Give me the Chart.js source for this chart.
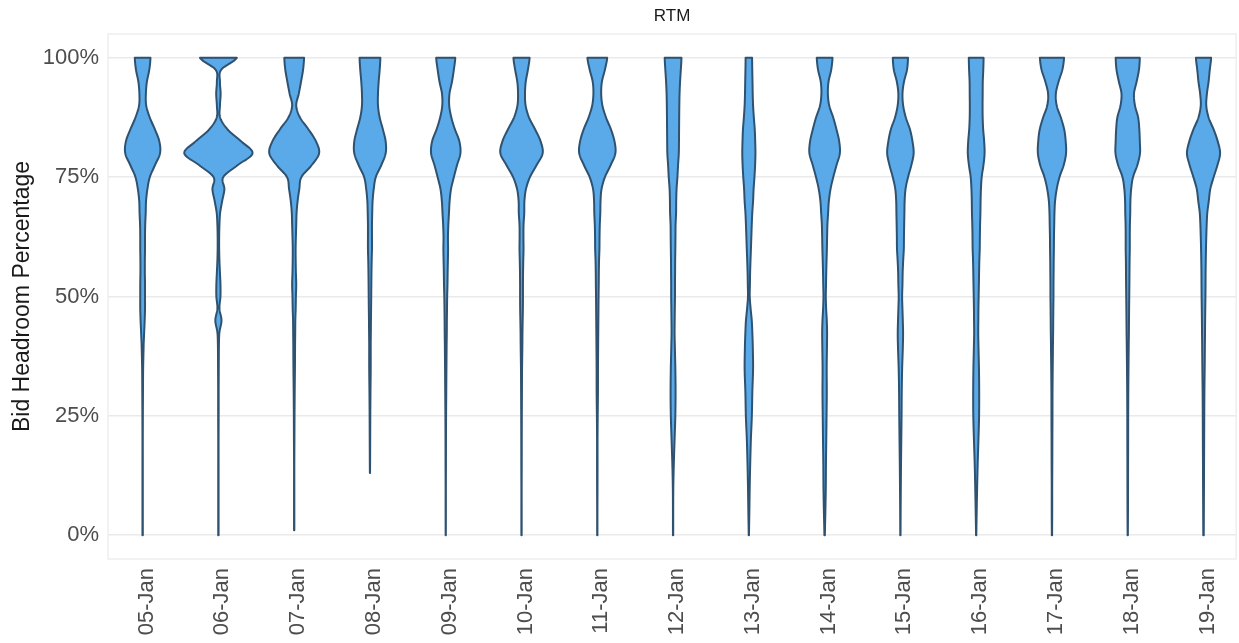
<!DOCTYPE html>
<html>
<head>
<meta charset="utf-8">
<title>RTM bid headroom</title>
<script src="https://cdn.jsdelivr.net/npm/chart.js@4.4.1/dist/chart.umd.min.js"></script>
<style>
  html, body { margin: 0; padding: 0; background: #ffffff; }
  #wrap { width: 1239px; height: 643px; }
</style>
</head>
<body>
<div id="wrap"><canvas id="chart" width="1239" height="643"></canvas></div>
<script>
// Trading days on the x axis
const dates = ['05-Jan', '06-Jan', '07-Jan', '08-Jan', '09-Jan', '10-Jan', '11-Jan', '12-Jan',
               '13-Jan', '14-Jan', '15-Jan', '16-Jan', '17-Jan', '18-Jan', '19-Jan'];

// Bid headroom levels (%) at which each day's density is given
const levels = [0, 5, 10, 15, 20, 25, 30, 35, 40, 42.5, 45, 47.5, 50, 52.5, 55, 57.5, 60, 62.5,
                65, 67.5, 70, 72.5, 75, 77.5, 80, 82.5, 85, 87.5, 90, 92.5, 95, 97.5, 100];

// y axis tick values (%)
const yTicks = [0, 25, 50, 75, 100];

// Lowest and highest observed headroom for each day (violins are trimmed to the data range)
const lowest  = [0, 0, 1, 13, 0, 0, 0, 0, 0, 0, 0, 0, 0, 0, 0];
const highest = [100, 100, 100, 100, 100, 100, 100, 100, 100, 100, 100, 100, 100, 100, 100];

// Relative density per day at each level (100 = widest violin)
const dens05 = [0.5,0.5,0.5,0.5,0.5,0.7,1,1.5,3,4.5,6,7,7,7,6.5,6.5,7,7,7.5,9,10,14,21,36,51,49,36,21,10.5,9.5,12.5,19.5,23];
const dens06 = [0.5,0.5,0.5,0.5,0.5,0.7,0.7,1,1.5,3,9,3,6,6,4.5,3,2.2,2.2,3,5,11,17.5,14,56,100,67,27,5,4.5,6.5,4.5,8,54];
const dens07 = [0.4,0.4,0.4,0.4,0.7,1,1.5,2.2,2.6,3,3.3,4.4,5,6,5,4.4,4.2,5,6,7,10,15,21,51,73,64,42,17,6,13.5,20,26,29];
const dens08 = [0,0,0,0.4,0.7,1,1.5,2.2,2.2,2.6,2.9,3.3,3.7,4,4.4,5,5.9,5.9,5.9,6.6,7.7,11,17,33,46,46,38,28.5,23.5,23.5,25.5,28.5,30.5];
const dens09 = [0.3,0.4,0.4,0.6,0.7,1,1.5,2,2.6,3.1,3.3,3.7,4.2,5.1,5.6,6.3,6.9,6.5,7.6,9.5,11.4,15.4,23.7,33,43,40,27,16.4,10.2,11,18.3,23.7,28];
const dens10 = [0.4,0.4,0.4,0.6,0.7,0.9,1.2,1.6,2.5,2.8,3.4,4,4.2,4.2,4.5,5.1,5.9,5.6,5.9,8,8.5,13,24.6,44,62,56,40,22,12,10.2,12.4,18.7,23.7];
const dens11 = [0.4,0.4,0.6,0.7,0.7,1.2,1.9,2,2.5,2.8,3.1,3.4,3.7,4.2,4.5,5.1,6.3,6.6,7.3,8.8,9.5,12.4,22.3,39,53,50.5,40,25.6,15,11.4,13.5,22.3,29];
const dens12 = [0.4,0.4,0.7,2.2,4.4,6.6,7.3,6.6,5.1,4.4,4.7,5.1,5.6,5.6,5.9,6.1,6.6,7,7.3,8.8,9.2,10.2,12.7,14.6,16.8,17.3,17.6,17.9,18.3,19,20.5,22.7,24.6];
const dens13 = [0.4,1.5,2.5,4,5.9,8.8,10.2,12.4,11.4,10.2,8.5,5.1,2.6,3.1,3.7,4.8,6.1,7.3,8.5,10,12.4,13.9,16.4,18.3,19.3,18.6,17.3,14.6,12.4,11.3,10.7,10,9.5];
const dens14 = [0.7,2.2,3.4,3.9,4.8,5.6,6.3,6,6.9,7.2,6.3,4.4,3.4,4.1,4.7,5.6,6.6,7.3,8.1,10.2,12.4,17.3,25.2,34.8,44.6,42.7,34.8,25.2,13.5,9.5,11.4,19.3,23.1];
const dens15 = [0.4,0.7,1.2,1.8,2.6,3.4,3.9,5.1,7.3,7.8,7,5.9,5,6,6.6,8.1,10,10.4,11,11.7,12.4,15,22.3,32,38.8,35.4,28.1,15.8,8.1,6.1,10.5,19.3,22.3];
const dens16 = [0.4,1.5,2.8,4.4,6.6,8.5,8.8,8.1,6.6,6,6.3,6.6,7.2,7.9,8.5,9.2,10.4,10.8,11.4,12.4,12.9,13.9,16.1,21.2,24.6,23.4,20.5,19,18.7,19,19.3,20.8,21.7];
const dens17 = [0.4,0.7,0.7,1,1.2,1.5,1.6,2.2,2.9,3.4,3.7,4,4.4,4.5,4.8,5.1,5.6,5.9,6.6,7.3,9.1,13.9,22,34.4,41.3,40.3,35.9,26,13.9,11.4,19.3,30.5,35.4];
const dens18 = [0.4,0.7,0.9,1,1.2,1.3,1.6,2.2,2.9,3.4,3.7,4,4.4,4.8,5.1,5.4,6,6,6.3,7.3,7.8,10,15.4,28.1,35.9,35.4,34,30.5,21.2,18.3,26,32.9,35.4];
const dens19 = [0.7,1,1.3,1.6,1.9,2.2,2.6,3.4,4,4.4,4.7,5.1,5.6,5.9,6.1,6.6,7.2,8.1,9.2,11,15.4,19.8,29.6,40.7,48.6,41.7,29.6,14.9,8.1,10,14.9,18.3,22.3];

const densities = [dens05, dens06, dens07, dens08, dens09, dens10, dens11, dens12,
                   dens13, dens14, dens15, dens16, dens17, dens18, dens19];

// Widest violin spans 0.9 of a category slot
const MAX_HALF_WIDTH = 0.45;

function catmullRom(p0, p1, p2, p3, t) {
  const t2 = t * t, t3 = t2 * t;
  return 0.5 * (2 * p1 + (-p0 + p2) * t + (2 * p0 - 5 * p1 + 4 * p2 - p3) * t2 +
                (-p0 + 3 * p1 - 3 * p2 + p3) * t3);
}

// Smooth outline of one violin: list of [headroom, density] from bottom to top
function outline(dens, low, high) {
  const pts = [];
  const n = levels.length;
  const steps = 12;
  for (let k = 0; k < n - 1; k++) {
    const y0 = levels[k], y1 = levels[k + 1];
    if (y1 < low || y0 > high) continue;
    const p0 = dens[Math.max(k - 1, 0)], p1 = dens[k], p2 = dens[k + 1], p3 = dens[Math.min(k + 2, n - 1)];
    for (let s = 0; s <= steps; s++) {
      if (s === steps && k < n - 2) continue;
      let t = s / steps;
      let y = y0 + (y1 - y0) * t;
      if (y < low) {
        const tn = (s + 1) / steps;
        if (y0 + (y1 - y0) * tn > low) { y = low; t = (low - y0) / (y1 - y0); } else continue;
      }
      if (y > high) continue;
      pts.push([y, Math.max(catmullRom(p0, p1, p2, p3, t), 0.2)]);
    }
  }
  return pts;
}

const violinPlugin = {
  id: 'violins',
  afterDatasetsDraw(chart) {
    const { ctx, chartArea, scales: { x, y } } = chart;
    ctx.save();
    // light panel frame
    ctx.strokeStyle = '#EEEEEE';
    ctx.lineWidth = 1.5;
    ctx.strokeRect(chartArea.left, chartArea.top, chartArea.right - chartArea.left, chartArea.bottom - chartArea.top);

    densities.forEach((dens, i) => {
      const pts = outline(dens, lowest[i], highest[i]);
      ctx.beginPath();
      pts.forEach(([v, d], j) => {
        const px = x.getPixelForValue(i + d / 100 * MAX_HALF_WIDTH);
        const py = y.getPixelForValue(v);
        if (j === 0) ctx.moveTo(px, py); else ctx.lineTo(px, py);
      });
      for (let j = pts.length - 1; j >= 0; j--) {
        const [v, d] = pts[j];
        ctx.lineTo(x.getPixelForValue(i - d / 100 * MAX_HALF_WIDTH), y.getPixelForValue(v));
      }
      ctx.closePath();
      ctx.fillStyle = '#5AAAEA';
      ctx.fill();
      ctx.lineWidth = 2;
      ctx.lineJoin = 'round';
      ctx.strokeStyle = '#2E5270';
      ctx.stroke();
    });
    ctx.restore();
  }
};

const FONT = "'Liberation Sans', Arial, Helvetica, sans-serif";

new Chart(document.getElementById('chart'), {
  type: 'scatter',
  data: { datasets: [] },
  plugins: [violinPlugin],
  options: {
    responsive: false,
    animation: false,
    layout: { padding: { left: 0, right: 1, top: 0, bottom: 0 } },
    plugins: {
      legend: { display: false },
      tooltip: { enabled: false },
      title: {
        display: true,
        text: 'RTM',
        fullSize: false,
        color: '#1A1A1A',
        font: { family: FONT, size: 17, weight: 'normal', lineHeight: 1.2 },
        padding: { top: 6.5, bottom: 7.1 }
      }
    },
    scales: {
      x: {
        type: 'linear',
        min: -0.457,
        max: 14.431,
        afterBuildTicks: (scale) => { scale.ticks = dates.map((_, i) => ({ value: i })); },
        afterFit: (scale) => { scale.height = 84; },
        grid: { display: false, drawTicks: false },
        border: { display: false },
        ticks: {
          autoSkip: false,
          minRotation: 90,
          maxRotation: 90,
          padding: 9,
          labelOffset: 4,
          color: '#4D4D4D',
          font: { family: FONT, size: 22 },
          callback: (v) => dates[v]
        }
      },
      y: {
        type: 'linear',
        min: -5,
        max: 105,
        afterBuildTicks: (scale) => { scale.ticks = yTicks.map(v => ({ value: v })); },
        afterFit: (scale) => { scale.width = 108; },
        grid: { color: '#EAEAEA', lineWidth: 1.5, drawTicks: false },
        border: { display: false },
        ticks: {
          padding: 9,
          color: '#4D4D4D',
          font: { family: FONT, size: 22 },
          callback: (v) => v + '%'
        },
        title: {
          display: true,
          text: 'Bid Headroom Percentage',
          color: '#1A1A1A',
          font: { family: FONT, size: 23, lineHeight: 1.2 },
          padding: { top: 9, bottom: 0 }
        }
      }
    }
  }
});
</script>
</body>
</html>
